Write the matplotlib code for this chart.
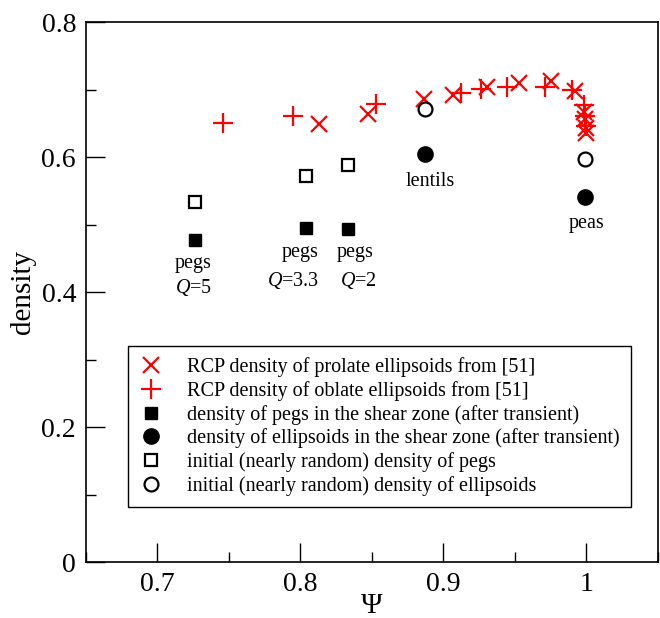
import matplotlib
matplotlib.use("Agg")
import matplotlib.pyplot as plt
from matplotlib.ticker import MultipleLocator

plt.rcParams['font.family'] = ['Liberation Serif', 'DejaVu Serif']
plt.rcParams['mathtext.fontset'] = 'custom'
plt.rcParams['mathtext.rm'] = 'Liberation Serif'
plt.rcParams['mathtext.it'] = 'Liberation Serif:italic'

# RCP prolate ellipsoids (x markers)
prolate_psi = [0.8133, 0.847, 0.8867, 0.907, 0.9306, 0.9527, 0.975, 0.992, 0.998, 0.999, 1.0, 1.0]
prolate_rho = [0.649, 0.665, 0.687, 0.693, 0.704, 0.711, 0.713, 0.698, 0.668, 0.657, 0.644, 0.636]
# RCP oblate ellipsoids (+ markers)
oblate_psi = [0.746, 0.7946, 0.853, 0.9124, 0.926, 0.9445, 0.971, 0.990, 0.998, 0.999, 1.0]
oblate_rho = [0.651, 0.662, 0.679, 0.696, 0.702, 0.704, 0.705, 0.700, 0.677, 0.662, 0.646]
# pegs
pegs_psi = [0.7266, 0.804, 0.833]
pegs_shear = [0.478, 0.496, 0.494]
pegs_init = [0.534, 0.573, 0.588]
# ellipsoids (lentils, peas)
ell_psi = [0.887, 0.999]
ell_shear = [0.605, 0.541]
ell_init = [0.672, 0.598]

labels = [
    "RCP density of prolate ellipsoids from [51]",
    "RCP density of oblate ellipsoids from [51]",
    "density of pegs in the shear zone (after transient)",
    "density of ellipsoids in the shear zone (after transient)",
    "initial (nearly random) density of pegs",
    "initial (nearly random) density of ellipsoids",
]

fig = plt.figure(figsize=(6.6, 6.18), dpi=100)
ax = fig.add_axes([0.130, 0.0906, 0.867, 0.873])

ax.plot(prolate_psi, prolate_rho, 'x', color='#ff0000', ms=11, mew=1.6, ls='none', label=labels[0])
ax.plot(oblate_psi, oblate_rho, '+', color='#ff0000', ms=15, mew=1.6, ls='none', label=labels[1])
ax.plot(pegs_psi, pegs_shear, 's', color='black', ms=9, ls='none', label=labels[2])
ax.plot(ell_psi, ell_shear, 'o', color='black', ms=11, ls='none', label=labels[3])
ax.plot(pegs_psi, pegs_init, 's', mfc='white', mec='black', mew=1.6, ms=9, ls='none', label=labels[4])
ax.plot(ell_psi, ell_init, 'o', mfc='white', mec='black', mew=1.6, ms=10, ls='none', label=labels[5])

fs = 14.5
kw = dict(ha='center', va='baseline', fontsize=fs)
ax.text(0.891, 0.557, "lentils", **kw)
ax.text(0.9998, 0.495, "peas", **kw)
ax.text(0.725, 0.436, "pegs", **kw)
ax.text(0.725, 0.399, r"$Q$=5", **kw)
ax.text(0.800, 0.452, "pegs", **kw)
ax.text(0.795, 0.410, r"$Q$=3.3", **kw)
ax.text(0.8385, 0.452, "pegs", **kw)
ax.text(0.8406, 0.410, r"$Q$=2", **kw)

ax.set_xlim(0.65, 1.05)
ax.set_ylim(0, 0.8)
ax.xaxis.set_major_locator(MultipleLocator(0.1))
ax.xaxis.set_minor_locator(MultipleLocator(0.05))
ax.yaxis.set_major_locator(MultipleLocator(0.2))
ax.yaxis.set_minor_locator(MultipleLocator(0.1))
ax.set_xticks([0.7, 0.8, 0.9, 1.0])
ax.set_xticklabels(["0.7", "0.8", "0.9", "1"])
ax.set_yticks([0, 0.2, 0.4, 0.6, 0.8])
ax.set_yticklabels(["0", "0.2", "0.4", "0.6", "0.8"])
ax.tick_params(which='major', direction='in', length=14, width=1.0, labelsize=20, pad=7)
ax.tick_params(which='minor', direction='in', length=7, width=1.0)
ax.tick_params(top=False, right=False)
for s in ax.spines.values():
    s.set_linewidth(1.2)

ax.set_xlabel("Ψ", fontsize=21, va='center')
ax.xaxis.set_label_coords(0.5, -0.081)
ax.set_ylabel("density", fontsize=21, labelpad=4)

leg = ax.legend(loc='lower left', bbox_to_anchor=(0.073, 0.102), fontsize=14.5,
                frameon=True, fancybox=False, edgecolor='black', framealpha=1,
                handlelength=1.2, handletextpad=1.2, labelspacing=0.19,
                borderpad=0.55, borderaxespad=0, numpoints=1)
leg.get_frame().set_linewidth(1.0)

fig.savefig("out.png", dpi=100)
